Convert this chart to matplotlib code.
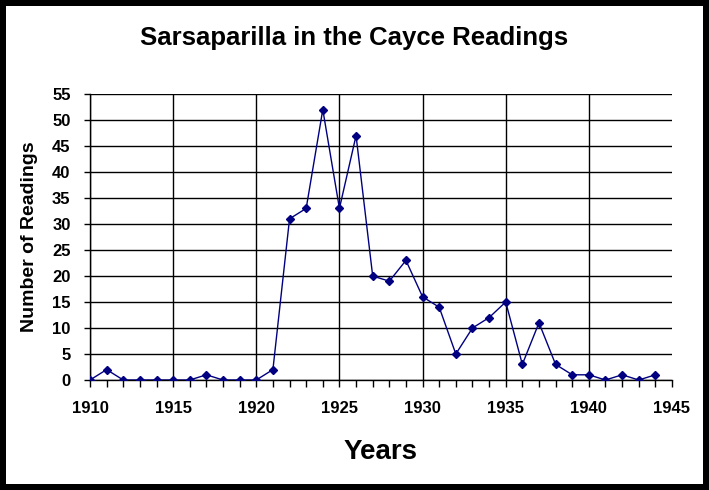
import matplotlib.pyplot as plt

plt.rcParams['font.family'] = ['Liberation Sans', 'DejaVu Sans']
plt.rcParams['font.weight'] = 'bold'

# readings per year
years = list(range(1910, 1945))
readings = [0, 2, 0, 0, 0, 0, 0, 1, 0, 0,
            0, 2, 31, 33, 52, 33, 47, 20, 19, 23,
            16, 14, 5, 10, 12, 15, 3, 11, 3, 1,
            1, 0, 1, 0, 1]

x_ticks = [1910, 1915, 1920, 1925, 1930, 1935, 1940, 1945]
y_ticks = [0, 5, 10, 15, 20, 25, 30, 35, 40, 45, 50, 55]

fig = plt.figure(figsize=(7.09, 4.90), dpi=100)
fig.patch.set_facecolor('white')
fig.patch.set_edgecolor('black')
fig.patch.set_linewidth(7.5)

ax = fig.add_axes([90 / 709, 1 - 380 / 490, (672 - 90) / 709, (380 - 94) / 490])

ax.plot(years, readings, color='#000080', linewidth=1.0,
        marker='D', markersize=4.5, markerfacecolor='#000080',
        markeredgecolor='#000080', zorder=3)

ax.set_xlim(1910, 1945)
ax.set_ylim(0, 55)
ax.set_xticks(x_ticks)
ax.set_xticks(range(1910, 1946), minor=True)
ax.set_yticks(y_ticks)

ax.grid(True, color='black', linewidth=1.0)
# no grid line on the right edge in the original
ax.xaxis.get_major_ticks()[-1].gridline.set_visible(False)

ax.spines['top'].set_visible(False)
ax.spines['right'].set_visible(False)
for s in ['left', 'bottom']:
    ax.spines[s].set_linewidth(1.0)

ax.tick_params(axis='x', which='both', direction='out', length=5, width=1.0,
               labelsize=12, pad=10)
ax.tick_params(axis='y', which='major', direction='out', length=4, width=1.0,
               labelsize=12, pad=10)

for lab in ax.get_xticklabels() + ax.get_yticklabels():
    lab.set_fontweight('bold')

fig.text(0.5, 1 - 38 / 490, 'Sarsaparilla in the Cayce Readings',
         ha='center', va='center', fontsize=18.5, fontweight='bold')
ax.set_xlabel('Years', fontsize=20, fontweight='bold', labelpad=17)
ax.set_ylabel('Number of Readings', fontsize=14, fontweight='bold', labelpad=10)

fig.savefig('out.png', dpi=100)
